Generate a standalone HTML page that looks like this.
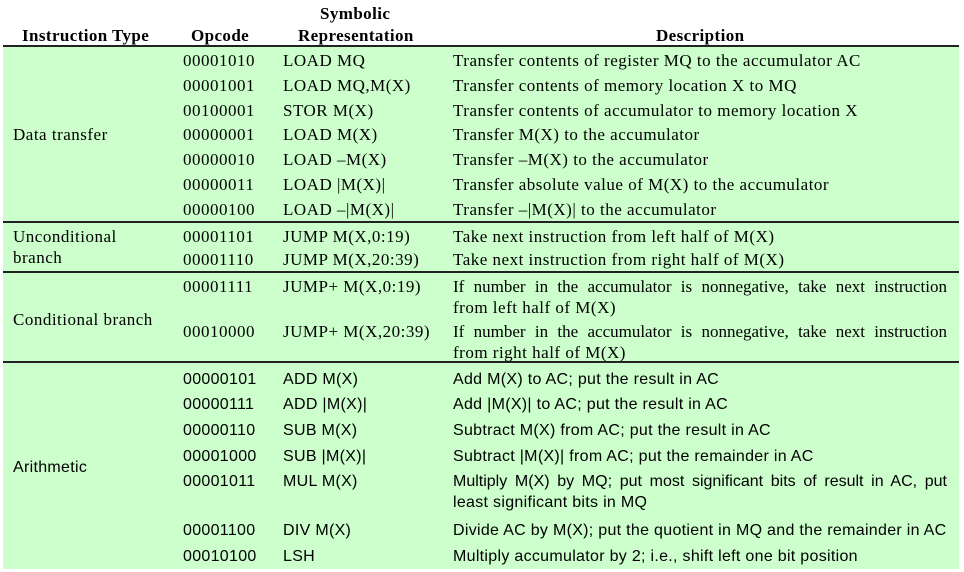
<!DOCTYPE html>
<html><head><meta charset="utf-8"><style>
body{margin:0;width:964px;height:572px;background:#fff;position:relative;overflow:hidden}
.g{position:absolute;left:3px;top:47px;width:956px;height:522px;background:#ccffcc}
.l{position:absolute;left:3px;width:956px;height:2px;background:#222}
.t{position:absolute;font:17px "Liberation Serif",serif;letter-spacing:0.5px;white-space:nowrap;line-height:20px;color:#000}
.s{position:absolute;font:16px "Liberation Sans",sans-serif;letter-spacing:0.3px;white-space:nowrap;line-height:20px;color:#000}
.h{font-weight:bold;letter-spacing:0.4px}
.j{white-space:normal;width:494px;text-align:justify;text-align-last:justify;letter-spacing:0}
</style></head><body>
<div class="g"></div>
<div class="l" style="top:45px"></div>
<div class="l" style="top:221px"></div>
<div class="l" style="top:271px"></div>
<div class="l" style="top:361px"></div>
<div class="t h" style="left:22px;top:26px">Instruction Type</div>
<div class="t h" style="left:191px;top:26px">Opcode</div>
<div class="t h" style="left:320px;top:4px">Symbolic</div>
<div class="t h" style="left:298px;top:26px">Representation</div>
<div class="t h" style="left:656px;top:26px">Description</div>

<div class="t" style="left:13px;top:125px">Data transfer</div>
<div class="t" style="left:183px;top:51px">00001010</div><div class="t" style="left:283px;top:51px">LOAD MQ</div><div class="t" style="left:453px;top:51px">Transfer contents of register MQ to the accumulator AC</div>
<div class="t" style="left:183px;top:76px">00001001</div><div class="t" style="left:283px;top:76px">LOAD MQ,M(X)</div><div class="t" style="left:453px;top:76px">Transfer contents of memory location X to MQ</div>
<div class="t" style="left:183px;top:101px">00100001</div><div class="t" style="left:283px;top:101px">STOR M(X)</div><div class="t" style="left:453px;top:101px">Transfer contents of accumulator to memory location X</div>
<div class="t" style="left:183px;top:125px">00000001</div><div class="t" style="left:283px;top:125px">LOAD M(X)</div><div class="t" style="left:453px;top:125px">Transfer M(X) to the accumulator</div>
<div class="t" style="left:183px;top:150px">00000010</div><div class="t" style="left:283px;top:150px">LOAD –M(X)</div><div class="t" style="left:453px;top:150px">Transfer –M(X) to the accumulator</div>
<div class="t" style="left:183px;top:175px">00000011</div><div class="t" style="left:283px;top:175px">LOAD |M(X)|</div><div class="t" style="left:453px;top:175px">Transfer absolute value of M(X) to the accumulator</div>
<div class="t" style="left:183px;top:200px">00000100</div><div class="t" style="left:283px;top:200px">LOAD –|M(X)|</div><div class="t" style="left:453px;top:200px">Transfer –|M(X)| to the accumulator</div>

<div class="t" style="left:13px;top:227px">Unconditional</div>
<div class="t" style="left:13px;top:248px">branch</div>
<div class="t" style="left:183px;top:227px">00001101</div><div class="t" style="left:283px;top:227px">JUMP M(X,0:19)</div><div class="t" style="left:453px;top:227px">Take next instruction from left half of M(X)</div>
<div class="t" style="left:183px;top:250px">00001110</div><div class="t" style="left:283px;top:250px">JUMP M(X,20:39)</div><div class="t" style="left:453px;top:250px">Take next instruction from right half of M(X)</div>

<div class="t" style="left:13px;top:310px">Conditional branch</div>
<div class="t" style="left:183px;top:277px">00001111</div><div class="t" style="left:283px;top:277px">JUMP+ M(X,0:19)</div>
<div class="t j" style="left:453px;top:277px">If number in the accumulator is nonnegative, take next instruction</div>
<div class="t" style="left:453px;top:298px">from left half of M(X)</div>
<div class="t" style="left:183px;top:322px">00010000</div><div class="t" style="left:283px;top:322px">JUMP+ M(X,20:39)</div>
<div class="t j" style="left:453px;top:322px">If number in the accumulator is nonnegative, take next instruction</div>
<div class="t" style="left:453px;top:343px">from right half of M(X)</div>

<div class="s" style="left:13px;top:458px">Arithmetic</div>
<div class="s" style="left:183px;top:370px">00000101</div><div class="s" style="left:283px;top:370px">ADD M(X)</div><div class="s" style="left:453px;top:370px">Add M(X) to AC; put the result in AC</div>
<div class="s" style="left:183px;top:395px">00000111</div><div class="s" style="left:283px;top:395px">ADD |M(X)|</div><div class="s" style="left:453px;top:395px">Add |M(X)| to AC; put the result in AC</div>
<div class="s" style="left:183px;top:421px">00000110</div><div class="s" style="left:283px;top:421px">SUB M(X)</div><div class="s" style="left:453px;top:421px">Subtract M(X) from AC; put the result in AC</div>
<div class="s" style="left:183px;top:447px">00001000</div><div class="s" style="left:283px;top:447px">SUB |M(X)|</div><div class="s" style="left:453px;top:447px">Subtract |M(X)| from AC; put the remainder in AC</div>
<div class="s" style="left:183px;top:472px">00001011</div><div class="s" style="left:283px;top:472px">MUL M(X)</div>
<div class="s j" style="left:453px;top:472px">Multiply M(X) by MQ; put most significant bits of result in AC, put</div>
<div class="s" style="left:453px;top:493px">least significant bits in MQ</div>
<div class="s" style="left:183px;top:521px">00001100</div><div class="s" style="left:283px;top:521px">DIV M(X)</div><div class="s" style="left:453px;top:521px">Divide AC by M(X); put the quotient in MQ and the remainder in AC</div>
<div class="s" style="left:183px;top:547px">00010100</div><div class="s" style="left:283px;top:547px">LSH</div><div class="s" style="left:453px;top:547px">Multiply accumulator by 2; i.e., shift left one bit position</div>
</body></html>
